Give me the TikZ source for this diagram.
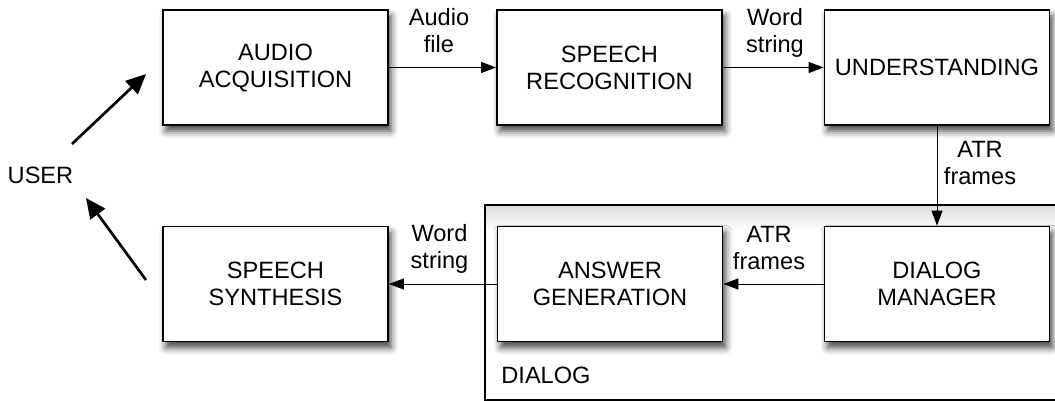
\documentclass[tikz,border=0pt]{standalone}
\usepackage{fontspec}
\setmainfont{Liberation Sans}
\usetikzlibrary{arrows.meta,shadows.blur}
\tikzset{
  stage/.style={
    draw,
    line width=0.9pt,
    fill=white,
    minimum width=112.5pt,
    minimum height=57.5pt,
    align=center,
    blur shadow={shadow xshift=1.5pt, shadow yshift=-3pt,
      shadow blur radius=3.5pt, shadow opacity=75}
  },
  tag/.style={
    inner sep=0pt,
    align=center
  },
  frame/.style={
    draw,
    line width=0.75pt
  },
}
\tikzset{
  flow/.style={
    line width=0.5pt,
    -{Triangle[length=7.5pt,width=5.5pt]}
  },
  push/.style={
    line width=1.35pt,
    -{Triangle[length=10pt,width=9pt]}
  },
  every picture/.style={
    font=\fontsize{11.8}{13.5}\selectfont
  }
}

\begin{document}
\begin{tikzpicture}[x=0.5pt,y=-0.5pt]
\useasboundingbox (0,0) rectangle (1055,401);
% dialog block
\shade[top color=black!14, bottom color=white] (485,205) rectangle (1057,230);
\draw[frame] (485,205) rectangle (1057,400);
\node[tag, anchor=west] (dlg) at (501,375) {DIALOG};
		  \foreach \x/\n/\t in {275.5/acq/{AUDIO\\ACQUISITION},609.5/asr/{SPEECH\\RECOGNITION},937/und/UNDERSTANDING}{
		    \node[stage] (\n) at (\x,67.5) {\t}; }
		  \foreach \x/\n/\t in {275.5/tts/{SPEECH\\SYNTHESIS},610/gen/{ANSWER\\GENERATION},937/dm/{DIALOG\\MANAGER}}{
		    \node[stage] (\n) at (\x,284) {\t}; }
\draw[flow] (acq) -- (asr);
\draw[flow] (asr) -- (und);
\draw[flow] (und) -- (dm);
\draw[flow] (dm) -- (gen);
\draw[flow] (gen) -- (tts);
\node[tag] (l1) at (439,31) {Audio\\file};
\node[tag] (l2) at (775,33) {Word\\string};
\node[tag] (l3) at (980,162.5) {ATR\\frames};
\node[tag] (l4) at (769,247.5) {ATR\\frames};
\node[tag] (l5) at (439.5,249) {Word\\string};
% user side
\node[tag] (user) at (40.5,175) {USER};
\coordinate (in0) at (72,144);
\coordinate (in1) at (146,74);
\coordinate (out0) at (146,280);
\coordinate (out1) at (86,198);
\draw[push] (in0) -- (in1);
\draw[push] (out0) -- (out1);
\end{tikzpicture}
\end{document}
